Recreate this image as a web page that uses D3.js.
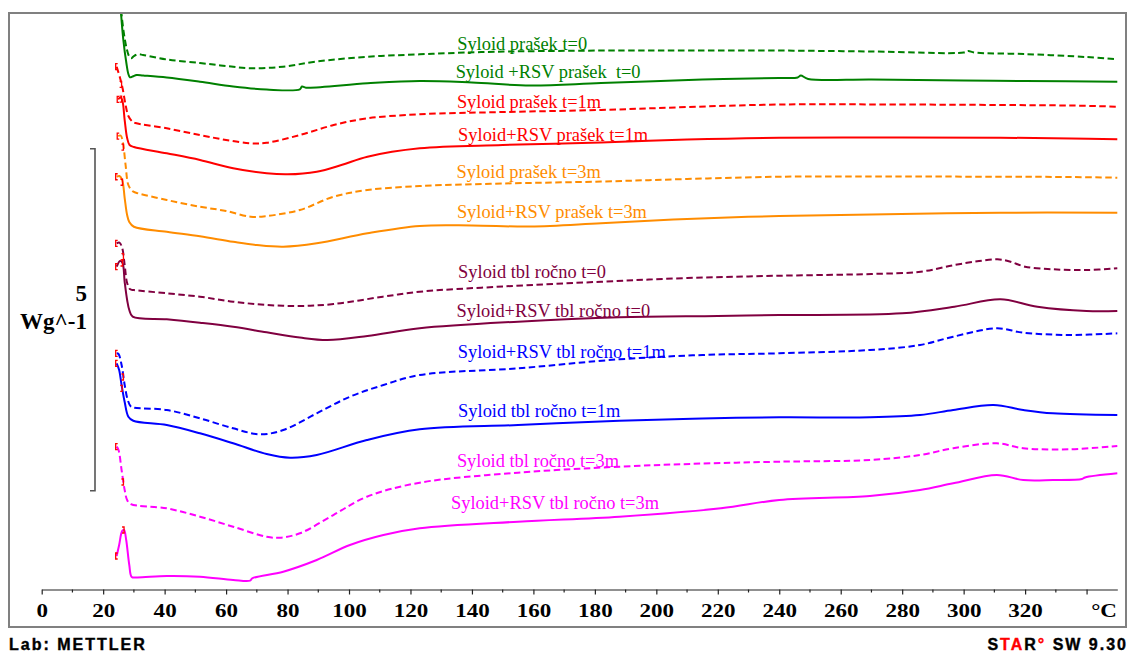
<!DOCTYPE html>
<html>
<head>
<meta charset="utf-8">
<script src="https://cdn.jsdelivr.net/npm/d3@7/dist/d3.min.js"></script>
<style>
body { margin: 0; background: #fff; }
svg { display: block; }
</style>
</head>
<body>
<svg id="chart" width="1128" height="653"></svg>
<script>
'use strict'

// DSC heat flow curves: [temperature in °C, heat flow in W/g incl. stacking offset]
const syloidPrasekT0 = [[25.5,8.626],[26.5,8.216],[27.6,7.924],[28.4,7.807],[29.1,7.773],[30,7.807],[31.4,7.832],[33,7.822],
  [40.7,7.756],[51.5,7.705],[60,7.661],[68,7.627],[78.5,7.651],[89.5,7.727],[106,7.797],[123,7.832],[143,7.865],
  [182,7.887],[210,7.887],[240,7.887],[270,7.873],[300,7.858],[301.5,7.880],[303.5,7.858],[320,7.836],[340,7.792],[350,7.759]]
const syloidRsvPrasekT0 = [[25.5,8.626],[26.5,8.070],[27.6,7.690],[28.2,7.544],[28.7,7.496],[29.6,7.507],[30.9,7.529],[33,7.522],
  [40.7,7.493],[51.5,7.431],[62.3,7.361],[73.2,7.317],[84,7.320],[84.7,7.361],[86,7.344],[106,7.408],[123,7.442],[140,7.420],
  [159,7.376],[182,7.412],[215,7.463],[240,7.485],[246,7.493],[247,7.522],[249.4,7.471],[270,7.463],[300,7.449],[320,7.442],[350,7.431]]
const syloidPrasekT1m = [[24.4,7.651],[25.5,7.485],[26.3,7.339],[27.3,7.091],[28.2,6.930],[29.5,6.849],[30.5,6.827],[40.7,6.750],
  [51.5,6.652],[60,6.579],[68,6.531],[73.2,6.539],[84,6.652],[95,6.798],[106,6.896],[123,6.955],[150,6.988],[182,7.018],
  [210,7.061],[240,7.098],[280,7.098],[312,7.091],[335,7.083],[350,7.066]]
const syloidRsvPrasekT1m = [[24.9,7.174],[25.6,7.200],[26.2,7.164],[27,6.871],[27.8,6.608],[28.6,6.506],[30,6.477],[40.7,6.385],
  [51.5,6.287],[62.3,6.165],[73.2,6.092],[80,6.077],[89.5,6.116],[97.5,6.213],[106,6.335],[123,6.458],[150,6.506],[182,6.542],
  [210,6.586],[240,6.613],[280,6.615],[312,6.613],[335,6.601],[350,6.589]]
const syloidPrasekT3m = [[24.9,6.637],[25.7,6.645],[26.4,6.550],[27.3,6.213],[28.2,5.921],[29.5,5.833],[30.5,5.811],[40.7,5.702],
  [51.5,5.604],[60,5.541],[68,5.458],[73.2,5.468],[84,5.556],[95,5.750],[106,5.848],[123,5.906],[150,5.943],[182,5.972],
  [210,6.009],[240,6.042],[280,6.045],[312,6.042],[335,6.038],[350,6.028]]
const syloidRsvPrasekT3m = [[24.4,6.042],[25.3,6.053],[26.2,5.994],[27,5.731],[27.8,5.482],[28.5,5.380],[30,5.311],[40.7,5.238],
  [51.5,5.171],[62.3,5.092],[70,5.044],[78.6,5.019],[89.5,5.069],[106,5.215],[123,5.322],[140,5.329],[159,5.314],
  [182,5.361],[210,5.424],[240,5.468],[270,5.490],[312,5.516],[350,5.516]]
const syloidTblT0 = [[24.4,5.069],[25.3,5.080],[26.2,5.000],[27,4.751],[27.8,4.488],[28.8,4.396],[30,4.386],[40.7,4.338],
  [51.5,4.288],[62.3,4.215],[73.2,4.167],[84,4.152],[95,4.181],[111,4.288],[123,4.361],[150,4.437],[182,4.507],
  [210,4.561],[240,4.595],[270,4.620],[286,4.654],[297,4.751],[305,4.810],[311,4.835],[315,4.803],[320,4.727],
  [329,4.689],[340,4.678],[350,4.703]]
const syloidRsvTblT0 = [[24.4,4.727],[25.5,4.810],[26.3,4.781],[27,4.503],[27.8,4.240],[28.5,4.094],[29.6,3.996],[40.7,3.958],
  [51.5,3.908],[62.3,3.849],[73.2,3.768],[84,3.691],[93,3.655],[106,3.713],[123,3.826],[155,3.923],[188,3.987],
  [220,4.006],[240,4.020],[280,4.045],[297,4.142],[312,4.250],[324,4.142],[340,4.079],[350,4.079]]
const syloidRsvTblT1m = [[24.4,3.461],[25,3.450],[26,3.289],[27,2.997],[28,2.778],[29,2.683],[30,2.665],[40.7,2.632],
  [51.5,2.510],[62.3,2.364],[71,2.276],[78.6,2.339],[89.5,2.583],[100.3,2.826],[111.2,2.997],[123,3.143],[155,3.241],
  [188,3.373],[215,3.436],[240,3.461],[269.5,3.509],[285.8,3.582],[296.6,3.703],[310.8,3.826],[319.4,3.762],
  [334.6,3.728],[350,3.753]]
const syloidTblT1m = [[24.4,3.314],[25.2,3.216],[26,2.997],[27,2.749],[28.2,2.534],[29.8,2.475],[40.7,2.412],[51.5,2.291],
  [62.3,2.145],[73.2,1.988],[80.8,1.934],[89.5,1.974],[105.8,2.193],[123,2.349],[155,2.412],[188,2.475],[215,2.507],
  [240,2.525],[269.5,2.525],[285.8,2.558],[296.6,2.632],[309.7,2.705],[319.4,2.632],[329,2.583],[350,2.558]]
const syloidTblT3m = [[24.4,2.095],[25,2.047],[26,1.754],[27,1.462],[27.8,1.316],[29,1.257],[40.7,1.194],[51.5,1.072],
  [62.3,0.925],[73.2,0.779],[77.5,0.765],[84,0.829],[94.9,1.096],[105.8,1.364],[123,1.569],[155,1.715],[188,1.803],
  [215,1.849],[240,1.876],[269.5,1.901],[285.8,1.974],[296.6,2.072],[310.8,2.145],[319.4,2.072],[334.6,2.057],[350,2.105]]
const syloidRsvTblT3m = [[24.4,0.497],[25.2,0.658],[26.2,0.863],[26.8,0.877],[27.5,0.731],[28.5,0.365],[29.3,0.190],[31,0.183],
  [40.7,0.205],[51.5,0.194],[62.3,0.146],[67.8,0.136],[68.5,0.171],[78.6,0.268],[89.5,0.439],[100.3,0.658],[111.2,0.804],
  [123,0.902],[155,0.999],[188,1.072],[221,1.194],[240,1.316],[269.5,1.374],[285.8,1.462],[296.6,1.560],[310.8,1.681],
  [319.4,1.608],[329,1.608],[338.5,1.623],[339.5,1.645],[350,1.706]]

const curveNames = ['Syloid prašek t=0', 'Syloid +RSV prašek  t=0', 'Syloid prašek t=1m', 'Syloid+RSV prašek t=1m',
  'Syloid prašek t=3m', 'Syloid+RSV prašek t=3m', 'Syloid tbl ročno t=0', 'Syloid+RSV tbl ročno t=0',
  'Syloid+RSV tbl ročno t=1m', 'Syloid tbl ročno t=1m', 'Syloid tbl ročno t=3m', 'Syloid+RSV tbl ročno t=3m']
const curveData = [syloidPrasekT0, syloidRsvPrasekT0, syloidPrasekT1m, syloidRsvPrasekT1m, syloidPrasekT3m, syloidRsvPrasekT3m,
  syloidTblT0, syloidRsvTblT0, syloidRsvTblT1m, syloidTblT1m, syloidTblT3m, syloidRsvTblT3m]
const curveColors = ['#008000', '#008000', '#ff0000', '#ff0000', '#ff8c00', '#ff8c00',
  '#800040', '#800040', '#0000ff', '#0000ff', '#ff00ff', '#ff00ff']
const curveDashed = [true, false, true, false, true, false, true, false, true, false, true, false]
// label anchors [°C, W/g]
const labelAnchors = [[135.2,7.895],[134.7,7.490],[135.1,7.051],[135.5,6.564],[135.0,6.028],[135.1,5.443],
  [135.5,4.566],[135.0,3.996],[135.4,3.387],[135.5,2.534],[135.1,1.803],[133.2,1.180]]
// evaluation limit brackets, temperature of the closing bracket (null = none)
const closeBracketT = [null, null, 26.0, 26.0, 26.6, 26.3, 26.6, 26.3, 26.6, 26.2, 26.6, 26.8]

const majorTicks = d3.range(0, 341, 20)
const minorTicks = d3.range(10, 341, 20)
const scaleBar = {from: 1.452, span: 5, unit: 'Wg^-1'}

const svg = d3.select('#chart')
const x = d3.scaleLinear().domain([0, 350]).range([41.7, 1117.3])
const y = d3.scaleLinear().domain([0, 8.436]).range([590, 13])

svg.append('clipPath').attr('id', 'plotclip')
  .append('rect').attr('x', 9).attr('y', 13).attr('width', 1117).attr('height', 614)

let line = d3.line()
  .x(function(d){ return x(d[0]) })
  .y(function(d){ return y(d[1]) })
  .curve(d3.curveCatmullRom.alpha(0.5))

let plot = svg.append('g').attr('clip-path', 'url(#plotclip)')

plot.selectAll('.curve')
  .data(curveData)
  .enter()
  .append('path')
  .attr('class', 'curve')
  .attr('fill', 'none')
  .attr('stroke', function(d, i){ return curveColors[i] })
  .attr('stroke-width', 2)
  .attr('stroke-dasharray', function(d, i){ return curveDashed[i] ? '6.5,3.5' : null })
  .attr('d', line)

// red [ ] markers at the start of the curves
function valueAt(data, t){
  return d3.scaleLinear().domain(data.map(function(d){ return d[0] })).range(data.map(function(d){ return d[1] }))(t)
}
curveData.forEach(function(data, i){
  if (closeBracketT[i] == null) return
  let px = x(data[0][0]) - 1, py = y(data[0][1])
  plot.append('path').attr('fill', 'none').attr('stroke', '#ff0000').attr('stroke-width', 1.3)
    .attr('d', 'M' + (px + 2) + ',' + (py - 3) + 'H' + px + 'V' + (py + 3) + 'H' + (px + 2))
  let qx = x(closeBracketT[i]), qy = y(valueAt(data, closeBracketT[i]))
  plot.append('path').attr('fill', 'none').attr('stroke', '#ff0000').attr('stroke-width', 1.3)
    .attr('d', 'M' + (qx - 2) + ',' + (qy - 3) + 'H' + qx + 'V' + (qy + 3) + 'H' + (qx - 2))
})

svg.selectAll('.clabel')
  .data(curveNames)
  .enter()
  .append('text')
  .attr('class', 'clabel')
  .attr('x', function(d, i){ return x(labelAnchors[i][0]) })
  .attr('y', function(d, i){ return y(labelAnchors[i][1]) })
  .attr('fill', function(d, i){ return curveColors[i] })
  .style('font-family', '"Liberation Serif", "Times New Roman", serif')
  .style('font-size', '18.4px')
  .style('white-space', 'pre')
  .text(function(d){ return d })

// x axis
let axisG = svg.append('g').attr('transform', 'translate(0,589.5)')
  .call(d3.axisBottom(x).tickValues(majorTicks).tickSize(5).tickSizeOuter(0)
    .tickFormat(function(d){ return d === 340 ? '' : d }))
axisG.select('.domain').attr('stroke', '#222').attr('stroke-width', 1.2)
axisG.selectAll('.tick line').attr('stroke', '#222').attr('stroke-width', 1.2)
axisG.selectAll('.tick text')
  .attr('y', 27.5).attr('dy', 0)
  .attr('transform', 'scale(1.28,1)')
  .style('font-family', '"Liberation Serif", "Times New Roman", serif')
  .style('font-size', '18px').style('font-weight', 'bold')
axisG.selectAll('.minor').data(minorTicks).enter().append('line')
  .attr('class', 'minor')
  .attr('x1', function(d){ return x(d) }).attr('x2', function(d){ return x(d) })
  .attr('y1', 0).attr('y2', 3).attr('stroke', '#222').attr('stroke-width', 1.2)
svg.append('text').text('°C')
  .attr('transform', 'translate(1117,617) scale(1.28,1)')
  .attr('text-anchor', 'end')
  .style('font-family', '"Liberation Serif", "Times New Roman", serif')
  .style('font-size', '18px').style('font-weight', 'bold')

// scale bar
let barTop = y(scaleBar.from + scaleBar.span), barBottom = y(scaleBar.from)
svg.append('path').attr('fill', 'none').attr('stroke', '#555').attr('stroke-width', 1.6)
  .attr('d', 'M90,' + barTop + 'H95V' + barBottom + 'H90')
svg.append('text').text(scaleBar.span).attr('x', 87).attr('y', 300.5).attr('text-anchor', 'end')
  .style('font-family', '"Liberation Serif", "Times New Roman", serif')
  .style('font-size', '23px').style('font-weight', 'bold')
svg.append('text').text(scaleBar.unit).attr('x', 87).attr('y', 329).attr('text-anchor', 'end')
  .style('font-family', '"Liberation Serif", "Times New Roman", serif')
  .style('font-size', '23px').style('font-weight', 'bold')

// frame
svg.append('rect').attr('x', 9).attr('y', 13).attr('width', 1117).attr('height', 614)
  .attr('fill', 'none').attr('stroke', '#808080').attr('stroke-width', 2)

// footer
svg.append('text').text('Lab: METTLER').attr('x', 9).attr('y', 650)
  .style('font-family', '"Liberation Sans", Arial, sans-serif')
  .style('font-size', '16px').style('font-weight', 'bold').style('letter-spacing', '2px')
  .attr('stroke', '#000').attr('stroke-width', 0.4)
let star = svg.append('text').attr('x', 1128).attr('y', 650).attr('text-anchor', 'end')
  .style('font-family', '"Liberation Sans", Arial, sans-serif')
  .style('font-size', '16px').style('font-weight', 'bold').style('letter-spacing', '2px')
  .attr('stroke-width', 0.4)
star.append('tspan').text('S').attr('stroke', '#000')
star.append('tspan').text('TA').attr('fill', '#ff0000').attr('stroke', '#ff0000')
star.append('tspan').text('R').attr('stroke', '#000')
star.append('tspan').text('°').attr('fill', '#ff0000').attr('stroke', '#ff0000')
star.append('tspan').text(' SW 9.30').attr('stroke', '#000')
</script>
</body>
</html>
